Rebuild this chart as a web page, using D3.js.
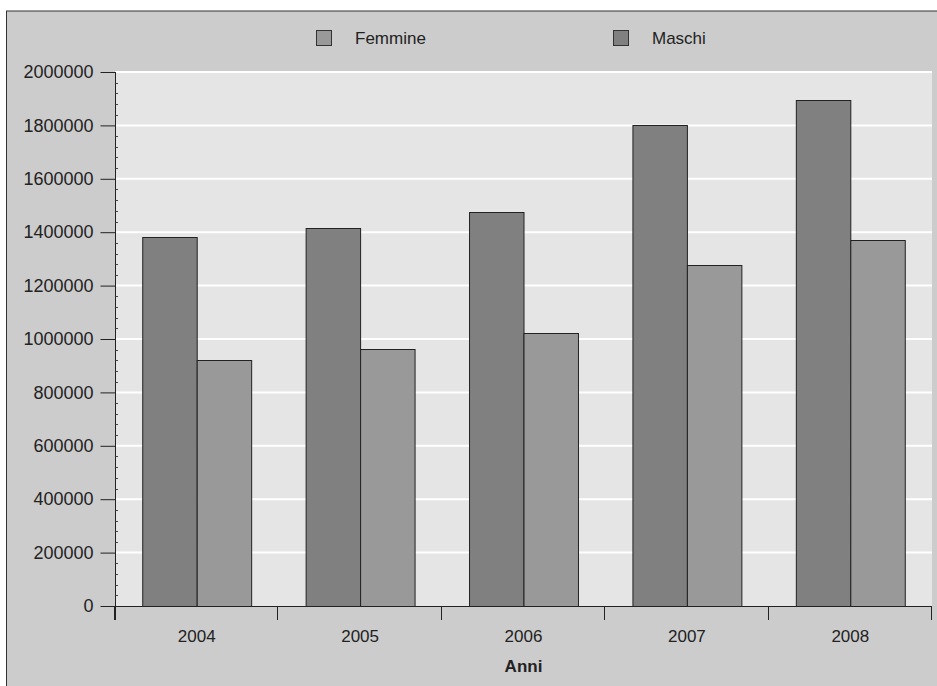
<!DOCTYPE html>
<html>
<head>
<meta charset="utf-8">
<script src="https://cdn.jsdelivr.net/npm/d3@7"></script>
<style>
  html, body { margin: 0; padding: 0; background: #ffffff; overflow: hidden; }
  svg { display: block; font-family: "Liberation Sans", Arial, Helvetica, sans-serif; }
</style>
</head>
<body>
<svg id="chart" width="937" height="686"></svg>
<script>
const years = ["2004", "2005", "2006", "2007", "2008"];
const seriesNames = ["Maschi", "Femmine"];
const maschi = [1382000, 1416000, 1477000, 1802000, 1894000];
const femmine = [920000, 962000, 1022000, 1276000, 1372000];
const yTicks = [0, 200000, 400000, 600000, 800000, 1000000, 1200000, 1400000, 1600000, 1800000, 2000000];
const legendItems = ["Femmine", "Maschi"];
const colors = { Maschi: "#808080", Femmine: "#999999" };
const xTitle = "Anni";

const svg = d3.select("#chart");
const W = 937, H = 686;
const margin = { left: 115, right: 5, top: 72, bottom: 80 };
const x0 = margin.left, x1 = W - margin.right;
const y0 = H - margin.bottom, y1 = margin.top;

// outer frame
svg.append("rect").attr("x", 6.5).attr("y", 11).attr("width", W + 10).attr("height", H + 10)
  .attr("fill", "#cccccc").attr("stroke", "#333").attr("stroke-width", 1);

const x = d3.scaleBand().domain(years).range([x0, x1]).paddingInner(0).paddingOuter(0);
const xs = d3.scaleBand().domain(seriesNames).range([0, x.bandwidth()]).paddingInner(0).paddingOuter(0.5);
const y = d3.scaleLinear().domain([0, 2000000]).range([y0, y1]);

// plot background
svg.append("rect").attr("x", x0).attr("y", y1 - 1).attr("width", x1 - x0).attr("height", y0 - y1 + 1)
  .attr("fill", "#e5e5e5");

// gridlines
svg.append("g").selectAll("line").data(yTicks.filter(d => d > 0)).join("line")
  .attr("x1", x0).attr("x2", x1)
  .attr("y1", d => y(d)).attr("y2", d => y(d))
  .attr("stroke", "#ffffff").attr("stroke-width", 2);

// bars
const data = years.map((yr, i) => ({ year: yr, Maschi: maschi[i], Femmine: femmine[i] }));
const g = svg.append("g").selectAll("g").data(data).join("g")
  .attr("transform", d => `translate(${x(d.year)},0)`);
g.selectAll("rect").data(d => seriesNames.map(s => ({ s, v: d[s] }))).join("rect")
  .attr("x", d => xs(d.s) + 0.5)
  .attr("y", d => Math.round(y(d.v)) + 0.5)
  .attr("width", xs.bandwidth())
  .attr("height", d => y0 - Math.round(y(d.v)))
  .attr("fill", d => colors[d.s])
  .attr("stroke", "#222").attr("stroke-width", 1);

// y axis
const yAxis = d3.axisLeft(y).tickValues(yTicks).tickSize(15).tickPadding(7).tickFormat(d3.format("d"));
const ya = svg.append("g").attr("transform", `translate(${x0 + 0.5},0)`).call(yAxis);
ya.select(".domain").remove();
ya.selectAll("line").attr("stroke", "#222");
ya.selectAll("text").attr("font-size", 18).attr("fill", "#222").attr("font-family", "Liberation Sans, Arial, sans-serif");
svg.append("line").attr("x1", x0 + 0.5).attr("x2", x0 + 0.5).attr("y1", y1).attr("y2", y0 + 14)
  .attr("stroke", "#222");
// minor ticks
const minor = d3.range(0, 2000001, 40000).filter(d => d % 200000 !== 0);
svg.append("g").selectAll("line").data(minor).join("line")
  .attr("x1", x0 + 0.5).attr("x2", x0 + 3)
  .attr("y1", d => Math.round(y(d)) + 0.5).attr("y2", d => Math.round(y(d)) + 0.5)
  .attr("stroke", "#444").attr("stroke-width", 1);

// x axis
svg.append("line").attr("x1", x0).attr("x2", x1).attr("y1", y0 + 0.5).attr("y2", y0 + 0.5).attr("stroke", "#222");
const bounds = years.map(d => x(d)).concat([x1]);
svg.append("g").selectAll("line").data(bounds).join("line")
  .attr("x1", d => Math.round(d) - 0.5).attr("x2", d => Math.round(d) - 0.5)
  .attr("y1", y0).attr("y2", y0 + 14).attr("stroke", "#222");
svg.append("g").selectAll("text").data(years).join("text")
  .attr("x", d => x(d) + x.bandwidth() / 2).attr("y", y0 + 36)
  .attr("text-anchor", "middle").attr("font-size", 17).attr("fill", "#222")
  .text(d => d);
svg.append("text").attr("x", (x0 + x1) / 2).attr("y", y0 + 66)
  .attr("text-anchor", "middle").attr("font-size", 17).attr("font-weight", "bold").attr("fill", "#222")
  .text(xTitle);

// legend
const legendX = [316, 613];
const lg = svg.append("g").selectAll("g").data(legendItems).join("g")
  .attr("transform", (d, i) => `translate(${legendX[i]},30)`);
lg.append("rect").attr("x", 0.5).attr("y", 0.5).attr("width", 15).attr("height", 15)
  .attr("fill", d => colors[d]).attr("stroke", "#333");
lg.append("text").attr("x", 39).attr("y", 13.5).attr("font-size", 17).attr("fill", "#222").text(d => d);
</script>
</body>
</html>
